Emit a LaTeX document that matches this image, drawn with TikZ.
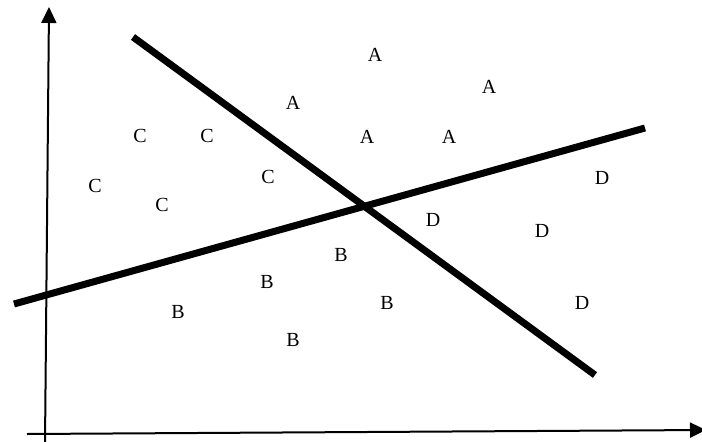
\documentclass[tikz,border=0pt]{standalone}
\usepackage{fontspec}
\setmainfont{Liberation Serif}
\usetikzlibrary{arrows.meta}
\begin{document}
\begin{tikzpicture}[x=1pt,y=-1pt,
  axis/.style={line width=2pt,-{Triangle[length=16pt,width=15pt]}},
  sep/.style={line width=7pt},
  lab/.style={inner sep=0pt,font=\fontsize{20}{24}\selectfont}]
\useasboundingbox (0,0) rectangle (702,442);
\coordinate (yb) at (45,444);
\coordinate (yt) at (49,7);
\coordinate (xl) at (27,434);
\coordinate (xr) at (706,430);
\draw[axis] (yb) -- (yt);
\draw[axis] (xl) -- (xr);
\coordinate (l1a) at (133,37);
\coordinate (l1b) at (595,375);
\coordinate (l2a) at (14,304);
\coordinate (l2b) at (645,128);
\draw[sep] (l1a) -- (l1b);
\draw[sep] (l2a) -- (l2b);
\node[lab] (a1) at (375,55) {A};
\node[lab] (a2) at (293,103) {A};
\node[lab] (a3) at (489,87) {A};
\node[lab] (a4) at (367,137) {A};
\node[lab] (a5) at (449,137) {A};
\node[lab] (c1) at (140,136) {C};
\node[lab] (c2) at (207,136) {C};
\node[lab] (c3) at (95,186) {C};
\node[lab] (c4) at (162,205) {C};
\node[lab] (c5) at (268,177) {C};
\node[lab] (d1) at (602,178) {D};
\node[lab] (d2) at (433,220) {D};
\node[lab] (d3) at (542,231) {D};
\node[lab] (d4) at (582,303) {D};
\node[lab] (b1) at (341,255) {B};
\node[lab] (b2) at (267,282) {B};
\node[lab] (b3) at (387,303) {B};
\node[lab] (b4) at (178,312) {B};
\node[lab] (b5) at (293,340) {B};
\end{tikzpicture}
\end{document}
